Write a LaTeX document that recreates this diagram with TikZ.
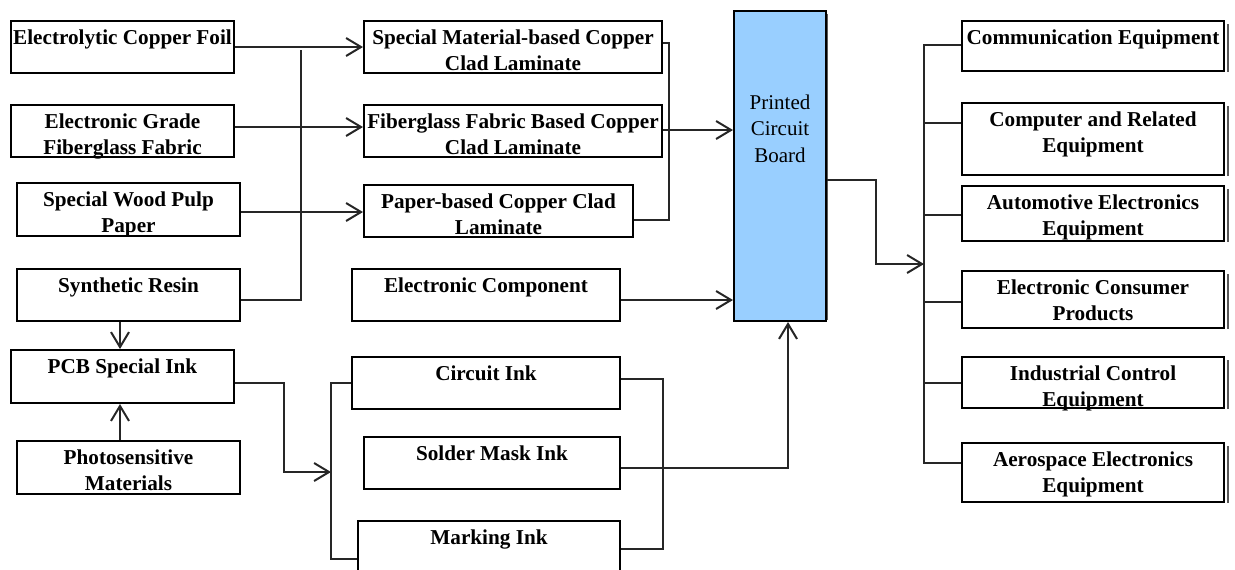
\documentclass[tikz,border=0pt]{standalone}
\usepackage{fontspec}
\setmainfont{Liberation Serif}
\usetikzlibrary{arrows.meta}
\newlength\pxu
\setlength\pxu{0.5pt}
\newcommand\bt[3]{\parbox[t][#2\pxu][t]{#1\pxu}{\centering\rule{0pt}{23\pxu}#3}}
\definecolor{pcbblue}{RGB}{153,207,255}
\begin{document}
\begin{tikzpicture}[x=0.5pt,y=-0.5pt,
  box/.style={draw, line width=1pt, inner sep=0pt, anchor=north west, fill=white,
    font=\fontsize{10.6}{13.25}\selectfont\bfseries},
  pcbbox/.style={draw, line width=1pt, inner sep=0pt, anchor=north west, fill=pcbblue,
    font=\fontsize{10.5}{13.25}\selectfont},
  conn/.style={line width=1pt, draw=black!85},
  arr/.style={conn, -{Straight Barb[length=7.5pt,width=9pt]}},
  shad/.style={line width=0.8pt, draw=black!65}]
\useasboundingbox (0,0) rectangle (1235,569);
\clip (0,0) rectangle (1235,569);

% left column
\node[box] (ecf)  at (10,20)  {\bt{223}{52}{Electrolytic Copper Foil}};
\node[box] (egff) at (10,104) {\bt{223}{52}{Electronic Grade\\Fiberglass Fabric}};
\node[box] (swpp) at (16,182) {\bt{223}{53}{Special Wood Pulp\\Paper}};
\node[box] (sr)   at (16,268) {\bt{223}{52}{Synthetic Resin}};
\node[box] (psi)  at (10,349) {\bt{223}{53}{PCB Special Ink}};
\node[box] (pm)   at (16,440) {\bt{223}{53}{Photosensitive\\Materials}};

% middle column
\node[box] (smccl) at (363,20)  {\bt{298}{52}{Special Material-based Copper\\Clad Laminate}};
\node[box] (fgccl) at (363,104) {\bt{298}{52}{Fiberglass Fabric Based Copper\\Clad Laminate}};
\node[box] (pbccl) at (363,184) {\bt{269}{52}{Paper-based Copper Clad\\Laminate}};
\node[box] (ec)    at (351,268) {\bt{268}{52}{Electronic Component}};
\node[box] (ci)    at (351,356) {\bt{268}{52}{Circuit Ink}};
\node[box] (sm)    at (363,436) {\bt{256}{52}{Solder Mask Ink}};
\node[box] (mi)    at (357,520) {\bt{262}{62}{Marking Ink}};

% PCB
\draw[shad] (827,14) -- (827,320);
\node[pcbbox] (pcb) at (733,10) {\parbox[t][310\pxu][t]{92\pxu}{\centering\rule{0pt}{98\pxu}Printed\\Circuit\\Board}};

% right column
\node[box] (cme) at (961,20)  {\bt{262}{50}{Communication Equipment}};
\node[box] (cre) at (961,102) {\bt{262}{72}{Computer and Related\\Equipment}};
\node[box] (aut) at (961,185) {\bt{262}{55}{Automotive Electronics\\Equipment}};
\node[box] (ecp) at (961,270) {\bt{262}{57}{Electronic Consumer\\Products}};
\node[box] (ice) at (961,356) {\bt{262}{51}{Industrial Control\\Equipment}};
\node[box] (aer) at (961,442) {\bt{262}{59}{Aerospace Electronics\\Equipment}};
\foreach \n in {cme,cre,aut,ecp,ice,aer}
  \draw[shad] ([xshift=1.4pt,yshift=-2pt]\n.north east) -- ([xshift=1.4pt]\n.south east);

% raw materials -> laminates
\coordinate (busA) at (301,50);
\draw[arr] (ecf.east |- 0,47) -- (smccl.west |- 0,47);
\draw[arr] (egff.east |- 0,127) -- (fgccl.west |- 0,127);
\draw[arr] (swpp.east |- 0,212) -- (pbccl.west |- 0,212);
\draw[conn] (sr.east |- 0,300) -| (busA);

% resin / photosensitive -> PCB special ink
\draw[arr] (sr.south -| 120,0) -- (psi.north -| 120,0);
\draw[arr] (pm.north -| 120,0) -- (psi.south -| 120,0);

% laminates -> PCB
\draw[conn] (smccl.east |- 0,43) -| (669,220) -- (pbccl.east |- 0,220);
\draw[arr] (fgccl.east |- 0,130) -- (pcb.west |- 0,130);
\draw[arr] (ec.east |- 0,300) -- (pcb.west |- 0,300);

% PCB special ink -> inks
\draw[arr] (psi.east |- 0,383) -| (284,472) -- (331,472);
\draw[conn] (ci.west |- 0,383) -| (331,559) -- (mi.west |- 0,559);

% inks -> PCB
\draw[conn] (ci.east |- 0,379) -| (663,549) -- (mi.east |- 0,549);
\draw[arr] (sm.east |- 0,468) -| (pcb.south -| 788,0);

% PCB -> applications
\draw[arr] (pcb.east |- 0,180) -| (876,264) -- (924,264);
\draw[conn] (cme.west |- 0,45) -| (924,463) -- (aer.west |- 0,463);
\draw[conn] (924,123) -- (cre.west |- 0,123);
\draw[conn] (924,215) -- (aut.west |- 0,215);
\draw[conn] (924,302) -- (ecp.west |- 0,302);
\draw[conn] (924,383) -- (ice.west |- 0,383);
\end{tikzpicture}
\end{document}
